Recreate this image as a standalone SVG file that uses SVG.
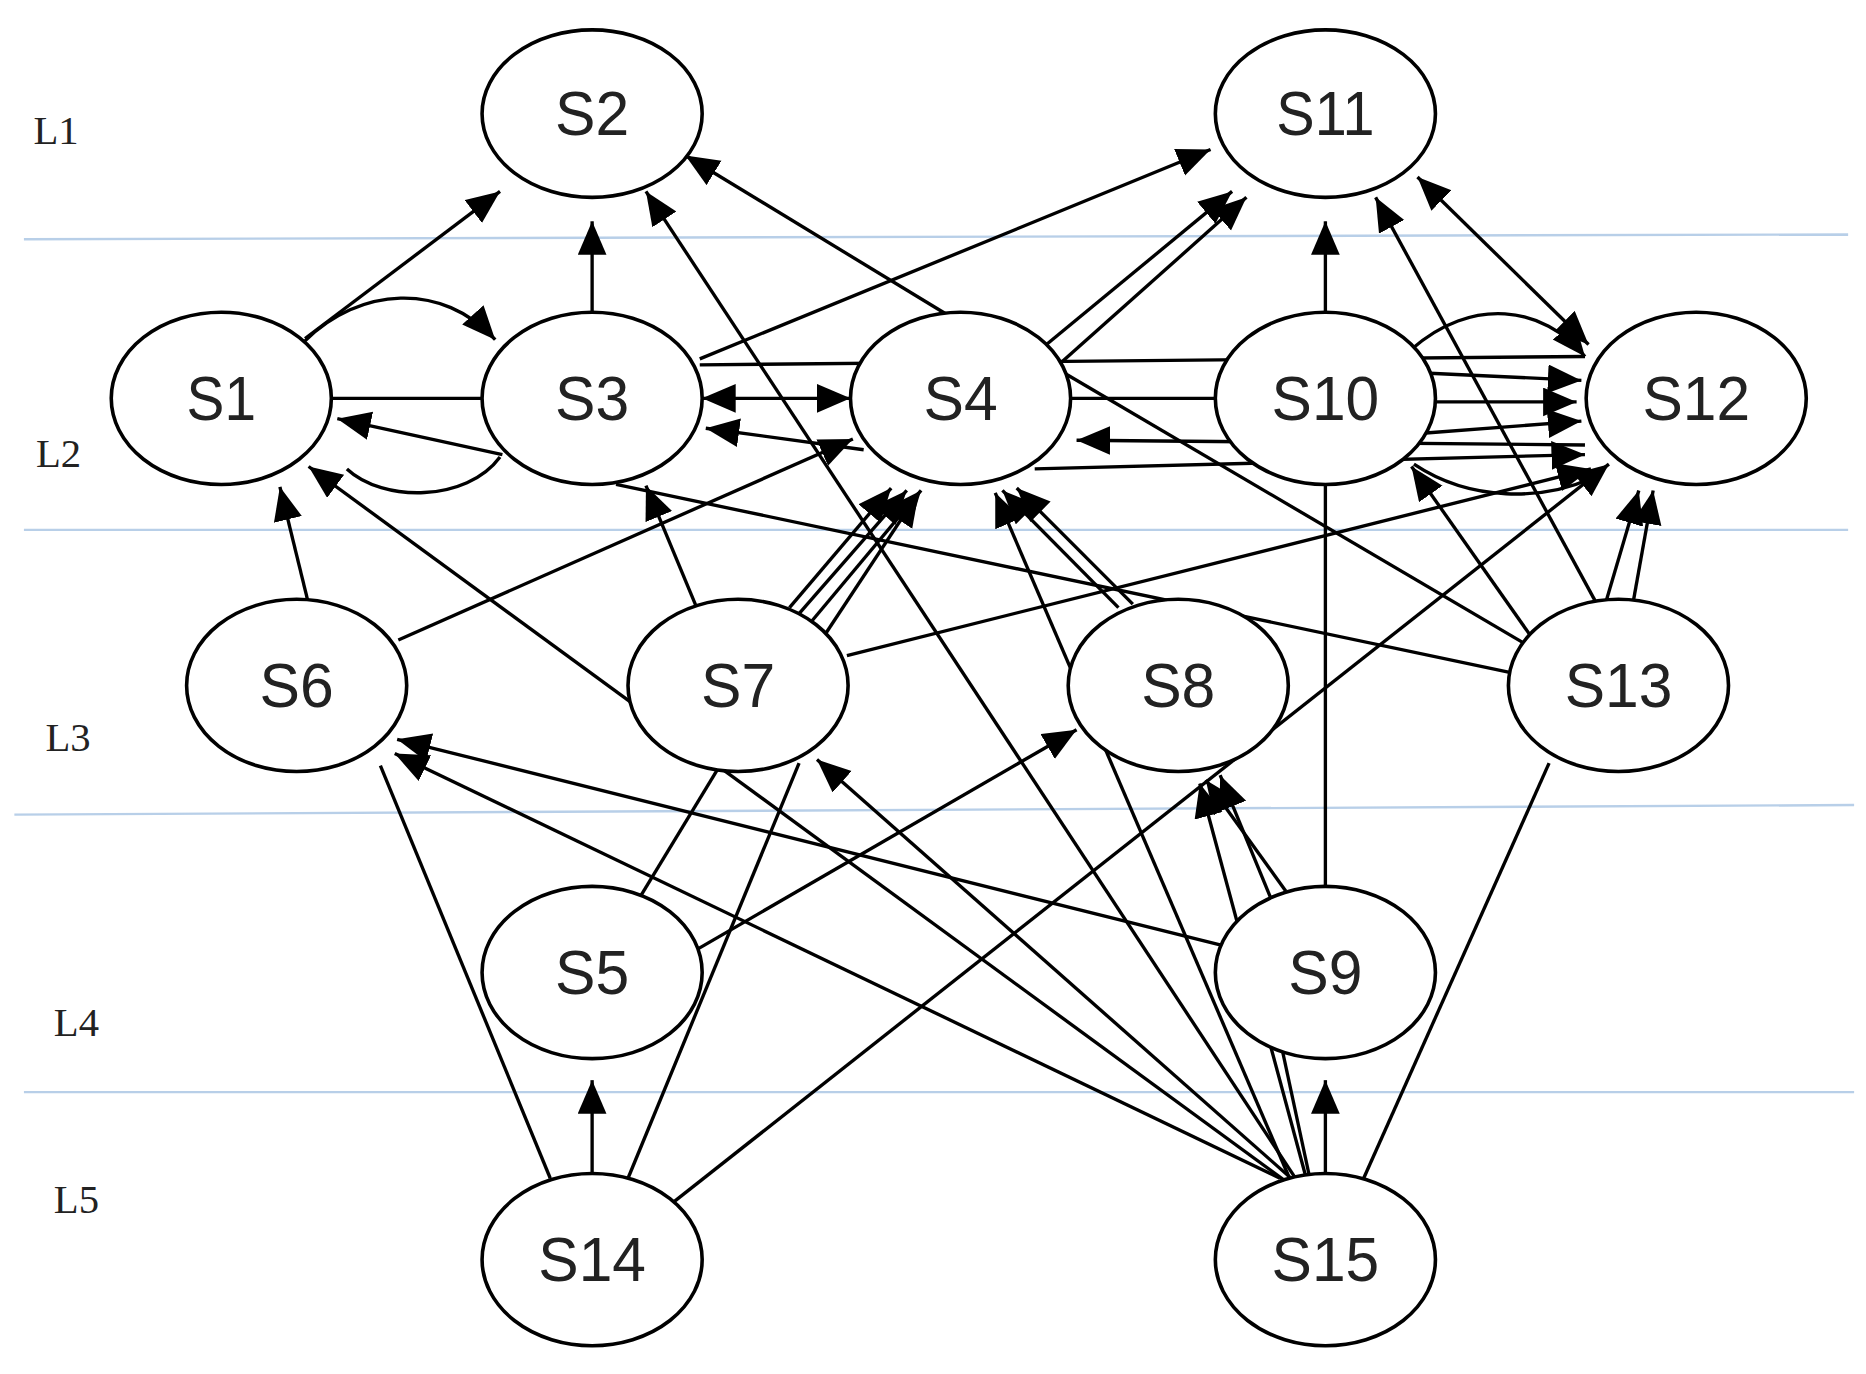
<svg xmlns="http://www.w3.org/2000/svg" width="1866" height="1374" viewBox="0 0 1866 1374">
<defs>
<marker id="ah" markerUnits="userSpaceOnUse" markerWidth="30" markerHeight="26" refX="28" refY="12" orient="auto-start-reverse" viewBox="0 0 30 26"><path d="M0,0 L28,12 L0,24 z" fill="#000"/></marker>
<style>
.lv{stroke:#b8cfe8;stroke-width:2;fill:none}
.e line,.e path{stroke:#000;stroke-width:2.8;fill:none}
.a{marker-end:url(#ah)}
.b{marker-start:url(#ah);marker-end:url(#ah)}
.n ellipse{fill:#fff;stroke:#000;stroke-width:3}
.n text{font-family:"Liberation Sans",Arial,sans-serif;font-size:52px;fill:#222;text-anchor:middle}
.l{font-family:"Liberation Serif","Times New Roman",serif;font-size:34px;fill:#222}
</style>
</defs>
<rect width="1866" height="1374" fill="#fff"/>
<g transform="scale(1.1962)">
<g id="levels">
<line class="lv" x1="20" y1="200" x2="1545" y2="196"/>
<line class="lv" x1="20" y1="443" x2="1545" y2="443"/>
<line class="lv" x1="12" y1="681" x2="1550" y2="673"/>
<line class="lv" x1="20" y1="913" x2="1550" y2="913"/>
<text class="l" x="28" y="120">L1</text>
<text class="l" x="30" y="390">L2</text>
<text class="l" x="38" y="628">L3</text>
<text class="l" x="45" y="866">L4</text>
<text class="l" x="45" y="1014">L5</text>
</g>
<g id="connectors" class="e">
<line class="a" x1="255" y1="283" x2="418" y2="160"/>
<line class="a" x1="495" y1="262" x2="495" y2="185"/>
<line class="a" x1="795" y1="265" x2="573" y2="130"/>
<line class="a" x1="1085" y1="988" x2="540" y2="160"/>
<path class="a" d="M255,285 C300,240 370,235 414,284"/>
<line x1="278" y1="333" x2="403" y2="333"/>
<path d="M418,382 C390,420 320,420 290,392"/>
<line class="a" x1="420" y1="380" x2="282" y2="350"/>
<line class="a" x1="1085" y1="995" x2="258" y2="390"/>
<line class="a" x1="258" y1="505" x2="234" y2="407"/>
<line class="b" x1="587" y1="333" x2="711" y2="333"/>
<line x1="585" y1="305" x2="1325" y2="298"/>
<line class="a" x1="585" y1="300" x2="1012" y2="125"/>
<line class="a" x1="722" y1="376" x2="590" y2="358"/>
<line class="a" x1="333" y1="535" x2="713" y2="367"/>
<line class="a" x1="582" y1="507" x2="540" y2="406"/>
<line class="a" x1="660" y1="508" x2="745" y2="408"/>
<line class="a" x1="668" y1="513" x2="758" y2="410"/>
<line class="a" x1="678" y1="520" x2="770" y2="410"/>
<line class="a" x1="690" y1="530" x2="768" y2="412"/>
<line class="a" x1="935" y1="508" x2="838" y2="410"/>
<line class="a" x1="947" y1="505" x2="850" y2="408"/>
<line class="a" x1="1078" y1="985" x2="832" y2="412"/>
<line class="a" x1="870" y1="292" x2="1030" y2="160"/>
<line class="a" x1="885" y1="305" x2="1042" y2="165"/>
<line x1="895" y1="333" x2="1018" y2="333"/>
<line class="a" x1="1325" y1="372" x2="900" y2="368"/>
<line class="a" x1="865" y1="392" x2="1325" y2="380"/>
<line x1="890" y1="312" x2="1278" y2="540"/>
<line class="a" x1="1108" y1="263" x2="1108" y2="185"/>
<path class="a" d="M1180,292 C1230,248 1290,255 1325,298"/>
<line class="a" x1="1195" y1="312" x2="1322" y2="318"/>
<line class="a" x1="1200" y1="336" x2="1318" y2="336"/>
<line class="a" x1="1192" y1="362" x2="1322" y2="352"/>
<path d="M1182,388 C1230,420 1290,418 1330,400"/>
<line class="b" x1="1185" y1="148" x2="1328" y2="288"/>
<line class="a" x1="1335" y1="505" x2="1150" y2="165"/>
<line class="a" x1="1282" y1="535" x2="1180" y2="390"/>
<line class="a" x1="1342" y1="505" x2="1370" y2="410"/>
<line class="a" x1="1365" y1="505" x2="1382" y2="410"/>
<line x1="1108" y1="743" x2="1108" y2="403"/>
<line class="a" x1="708" y1="548" x2="1330" y2="392"/>
<line class="a" x1="563" y1="1005" x2="1345" y2="388"/>
<line x1="1262" y1="562" x2="515" y2="405"/>
<line class="a" x1="577" y1="797" x2="900" y2="610"/>
<line class="a" x1="1075" y1="745" x2="1008" y2="652"/>
<line class="a" x1="1062" y1="750" x2="1020" y2="648"/>
<line class="a" x1="1092" y1="985" x2="1003" y2="655"/>
<line class="a" x1="1020" y1="790" x2="332" y2="618"/>
<line class="a" x1="1070" y1="985" x2="330" y2="630"/>
<line class="a" x1="1085" y1="990" x2="683" y2="635"/>
<line class="a" x1="1108" y1="983" x2="1108" y2="903"/>
<line x1="1095" y1="985" x2="1072" y2="878"/>
<line x1="1140" y1="985" x2="1295" y2="638"/>
<line class="a" x1="495" y1="983" x2="495" y2="903"/>
<line x1="460" y1="985" x2="318" y2="640"/>
<line x1="525" y1="985" x2="668" y2="638"/>
<line x1="535" y1="750" x2="600" y2="643"/>
</g>
<g id="S2" class="n"><ellipse cx="495" cy="95" rx="92" ry="70"/><text x="495" y="113" textLength="62" lengthAdjust="spacingAndGlyphs">S2</text></g>
<g id="S11" class="n"><ellipse cx="1108" cy="95" rx="92" ry="70"/><text x="1108" y="113" textLength="82" lengthAdjust="spacingAndGlyphs">S11</text></g>
<g id="S1" class="n"><ellipse cx="185" cy="333" rx="92" ry="72"/><text x="185" y="351" textLength="58" lengthAdjust="spacingAndGlyphs">S1</text></g>
<g id="S3" class="n"><ellipse cx="495" cy="333" rx="92" ry="72"/><text x="495" y="351" textLength="62" lengthAdjust="spacingAndGlyphs">S3</text></g>
<g id="S4" class="n"><ellipse cx="803" cy="333" rx="92" ry="72"/><text x="803" y="351" textLength="62" lengthAdjust="spacingAndGlyphs">S4</text></g>
<g id="S10" class="n"><ellipse cx="1108" cy="333" rx="92" ry="72"/><text x="1108" y="351" textLength="90" lengthAdjust="spacingAndGlyphs">S10</text></g>
<g id="S12" class="n"><ellipse cx="1418" cy="333" rx="92" ry="72"/><text x="1418" y="351" textLength="90" lengthAdjust="spacingAndGlyphs">S12</text></g>
<g id="S6" class="n"><ellipse cx="248" cy="573" rx="92" ry="72"/><text x="248" y="591" textLength="62" lengthAdjust="spacingAndGlyphs">S6</text></g>
<g id="S7" class="n"><ellipse cx="617" cy="573" rx="92" ry="72"/><text x="617" y="591" textLength="62" lengthAdjust="spacingAndGlyphs">S7</text></g>
<g id="S8" class="n"><ellipse cx="985" cy="573" rx="92" ry="72"/><text x="985" y="591" textLength="62" lengthAdjust="spacingAndGlyphs">S8</text></g>
<g id="S13" class="n"><ellipse cx="1353" cy="573" rx="92" ry="72"/><text x="1353" y="591" textLength="90" lengthAdjust="spacingAndGlyphs">S13</text></g>
<g id="S5" class="n"><ellipse cx="495" cy="813" rx="92" ry="72"/><text x="495" y="831" textLength="62" lengthAdjust="spacingAndGlyphs">S5</text></g>
<g id="S9" class="n"><ellipse cx="1108" cy="813" rx="92" ry="72"/><text x="1108" y="831" textLength="62" lengthAdjust="spacingAndGlyphs">S9</text></g>
<g id="S14" class="n"><ellipse cx="495" cy="1053" rx="92" ry="72"/><text x="495" y="1071" textLength="90" lengthAdjust="spacingAndGlyphs">S14</text></g>
<g id="S15" class="n"><ellipse cx="1108" cy="1053" rx="92" ry="72"/><text x="1108" y="1071" textLength="90" lengthAdjust="spacingAndGlyphs">S15</text></g>
</g>
</svg>
